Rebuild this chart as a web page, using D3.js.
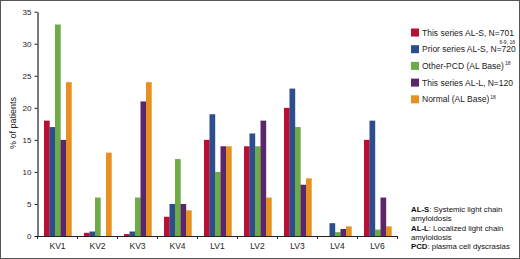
<!DOCTYPE html>
<html>
<head>
<meta charset="utf-8">
<script src="https://cdn.jsdelivr.net/npm/d3@7"></script>
<style>
  body { margin: 0; background: #fff; }
  svg { font-family: "Liberation Sans", Arial, sans-serif; }
  .axis path, .axis line { stroke: #222; }
  .axis text { fill: #222; }
</style>
</head>
<body>
<div id="vis-container"></div>
<script>
//data
const categories = ["KV1", "KV2", "KV3", "KV4", "LV1", "LV2", "LV3", "LV4", "LV6"];
const seriesNames = ["alsThis", "alsPrior", "otherPcd", "allThis", "normal"];
const alsThis  = [18, 0.5, 0.3, 3, 15, 14, 20, 0, 15];
const alsPrior = [17, 0.7, 0.7, 5, 19, 16, 23, 2, 18];
const otherPcd = [33, 6, 6, 12, 10, 14, 17, 0.6, 1];
const allThis  = [15, 0, 21, 5, 14, 18, 8, 1.1, 6];
const normal   = [24, 13, 24, 4, 14, 6, 9, 1.5, 1.5];
const yTicks = [0, 5, 10, 15, 20, 25, 30, 35];
const legendLabels = [
  {text: "This series AL-S, N=701", sup: ""},
  {text: "Prior series AL-S, N=720", sup: "6-9, 18"},
  {text: "Other-PCD (AL Base)", sup: "18"},
  {text: "This series AL-L, N=120", sup: ""},
  {text: "Normal (AL Base)", sup: "18"}
];

const colors = ["#b80f32", "#2c4e8c", "#6dab47", "#5a2869", "#e6911f"];
const values = [alsThis, alsPrior, otherPcd, allThis, normal];

const W = 520, H = 259;
let svg = d3.select("#vis-container").append("svg")
  .attr("width", W).attr("height", H);

//border
svg.append("rect")
  .attr("x", 0.5).attr("y", 0.5)
  .attr("width", W - 1).attr("height", H - 1)
  .attr("fill", "none").attr("stroke", "#555");

//scales
let x = d3.scaleBand().domain(categories).range([37.5, 397.5]).padding(0);
let xs = d3.scaleBand().domain(seriesNames).range([6.5, 34]).padding(0);
let y = d3.scaleLinear().domain([0, 35]).range([236, 11.7]);

let g = svg.append("g");

//bars
categories.forEach((c, i) => {
  let grp = g.append("g").attr("transform", `translate(${x(c)},0)`);
  grp.selectAll("rect")
    .data(seriesNames.map((s, k) => ({s: s, v: values[k][i], c: colors[k]})))
    .enter().append("rect")
      .attr("x", d => xs(d.s))
      .attr("width", xs.bandwidth() + 0.2)
      .attr("y", d => y(d.v))
      .attr("height", d => y(0) - y(d.v))
      .attr("fill", d => d.c);
});

//y axis
let yAxis = d3.axisLeft(y).tickValues(yTicks).tickSize(3).tickSizeOuter(0).tickPadding(3);
let yAxisGroup = svg.append("g").attr("class", "axis")
  .attr("transform", "translate(37.5,0)")
  .call(yAxis);
yAxisGroup.selectAll("text").attr("font-size", "8px");
yAxisGroup.select(".domain").attr("stroke-width", 1.2);

//x axis, labels centered, ticks at band edges
let xAxis = d3.axisBottom(x).tickSize(0).tickPadding(7).tickSizeOuter(0);
let xAxisGroup = svg.append("g").attr("class", "axis")
  .attr("transform", `translate(0,${y(0)})`)
  .call(xAxis);
xAxisGroup.selectAll("text").attr("font-size", "8.5px");
xAxisGroup.select(".domain").attr("stroke-width", 1.2);
xAxisGroup.selectAll(".edge")
  .data(d3.range(categories.length + 1))
  .enter().append("line")
    .attr("class", "edge")
    .attr("x1", i => 37.5 + i * x.step()).attr("x2", i => 37.5 + i * x.step())
    .attr("y1", 0).attr("y2", 3)
    .attr("stroke", "#222");

//y label
svg.append("text")
  .attr("transform", "translate(16,123) rotate(-90)")
  .attr("text-anchor", "middle")
  .attr("font-size", "9px")
  .attr("fill", "#222")
  .text("% of patients");

//legend
let gLegend = svg.append("g").attr("transform", "translate(411,0)");
legendLabels.forEach((d, i) => {
  let cy = 32.5 + i * 16.7;
  gLegend.append("rect")
    .attr("x", 0).attr("y", cy - 4)
    .attr("width", 8).attr("height", 8)
    .attr("fill", colors[i]);
  let t = gLegend.append("text")
    .attr("x", 11).attr("y", cy + 3)
    .attr("font-size", "8.5px").attr("fill", "#222");
  t.append("tspan").text(d.text);
  if (d.sup && i === 1) {
    gLegend.append("text")
      .attr("x", 104).attr("y", cy - 5)
      .attr("text-anchor", "end")
      .attr("font-size", "5px").attr("fill", "#222")
      .text(d.sup);
  } else if (d.sup) {
    t.append("tspan").attr("dy", -3.5).attr("dx", 1).attr("font-size", "5px").text(d.sup);
  }
});

//footnote
const notes = [
  [["AL-S", true], [": Systemic light chain", false]],
  [["amyloidosis", false]],
  [["AL-L", true], [": Localized light chain", false]],
  [["amyloidosis", false]],
  [["PCD", true], [": plasma cell dyscrasias", false]]
];
notes.forEach((line, i) => {
  let t = svg.append("text")
    .attr("x", 411).attr("y", 212 + i * 9.3)
    .attr("font-size", "7.8px").attr("fill", "#111");
  line.forEach(p => {
    t.append("tspan").attr("font-weight", p[1] ? "bold" : "normal").text(p[0]);
  });
});
</script>
</body>
</html>
